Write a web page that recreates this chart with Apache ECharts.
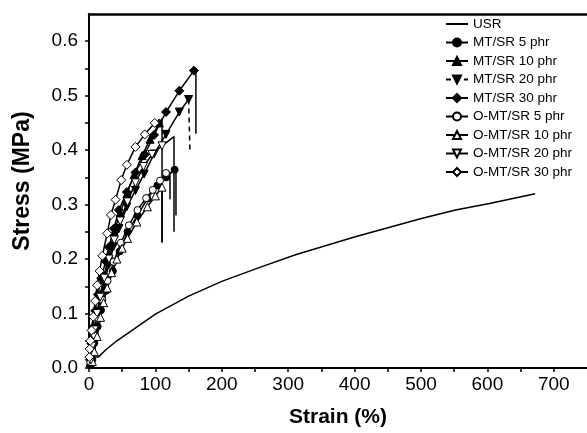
<!DOCTYPE html>
<html>
<head>
<meta charset="utf-8">
<script src="https://cdn.jsdelivr.net/npm/echarts@6/dist/echarts.min.js"></script>
<style>
  html, body { margin: 0; padding: 0; background: #fff; }
  #chart { width: 587px; height: 433px; }
</style>
</head>
<body>
<div id="chart"></div>
<script>
// Stress–strain curves: strain (%) vs stress (MPa)
const usr = [[4,0.02],[14,0.02],[25,0.033],[42,0.05],[67,0.071],[100,0.099],[150,0.132],[200,0.159],[251,0.182],[311,0.208],[401,0.241],[502,0.275],[552,0.29],[603,0.302],[672,0.32]];

const mt5 = [[2,0.005],[5,0.015],[8,0.046],[13,0.076],[18,0.106],[26,0.142],[36,0.178],[46,0.214],[58,0.25],[73,0.28],[88,0.311],[103,0.335],[116,0.35],[129,0.364]];
const mt5Break = [[131,0.37],[131,0.28]];

const mt10 = [[2,0.01],[4,0.04],[8,0.07],[12,0.1],[17,0.135],[23,0.17],[30,0.21],[38,0.25],[47,0.285],[57,0.32],[68,0.355],[80,0.39],[92,0.42],[106,0.45]];
const mt10Break = [[110,0.458],[110,0.232]];

const mt20 = [[2.5,0.009],[4.5,0.033],[7.5,0.063],[11.5,0.094],[16.5,0.124],[22.5,0.154],[30,0.19],[37,0.223],[45,0.256],[57,0.296],[70,0.326],[83,0.356],[98,0.393],[116,0.429],[136,0.47],[150,0.493]];
const mt20Break = [[150,0.493],[152,0.495],[152,0.40]];

const mt30 = [[1.5,0.015],[3.5,0.045],[6,0.075],[9.4,0.105],[13.3,0.135],[18.4,0.165],[25,0.196],[30,0.222],[37.4,0.256],[45,0.29],[57,0.323],[70,0.359],[84,0.392],[98,0.428],[116,0.47],[136,0.509],[158,0.546]];
const mt30Break = [[161,0.55],[161,0.43]];

const omt5 = [[2,0.01],[5,0.03],[9,0.06],[14,0.09],[20,0.125],[28,0.16],[37,0.195],[48,0.23],[60,0.262],[73,0.29],[86,0.312],[96,0.327],[107,0.344],[116,0.358]];
const omt5Break = [[122,0.36],[122,0.31]];

const omt10 = [[5,0.012],[8,0.03],[12.3,0.058],[17.3,0.093],[22,0.12],[27.4,0.147],[34,0.175],[42,0.2],[50,0.22],[58,0.238],[72,0.268],[88,0.296],[100,0.316],[110,0.332]];
const omt10Break = [[110,0.34],[110,0.23]];

const omt20 = [[3,0.015],[5,0.04],[8,0.07],[12,0.1],[17,0.13],[23,0.165],[30,0.2],[38,0.235],[47,0.27],[58,0.305],[70,0.34],[82,0.37],[95,0.392],[110,0.408]];
const omt20Break = [[128,0.425],[128,0.25]];

const omt30 = [[0.5,0.02],[1,0.035],[2,0.05],[3.8,0.069],[6.3,0.094],[9.3,0.123],[12.3,0.152],[16,0.178],[20,0.206],[27.4,0.247],[33,0.281],[40,0.309],[48.5,0.345],[57,0.373],[70,0.406],[84,0.429],[99,0.45]];
const omt30Break = [[107,0.456]];

const xTicks = { min: 0, max: 750, step: 50, labelStep: 100 };
const yTicks = { min: 0, max: 0.65, step: 0.05 };

const FONT = 'Liberation Sans, Arial, sans-serif';

// marker points followed by fracture segment points (no marker)
function withBreak(points, brk) {
  return points.map(p => ({ value: p }))
    .concat(brk.map(p => ({ value: p, symbol: 'none' })));
}

function curve(name, points, brk, symbol, size, filled, rotate) {
  return {
    name: name,
    type: 'line',
    data: withBreak(points, brk),
    symbol: symbol,
    symbolSize: size,
    symbolRotate: rotate || 0,
    showSymbol: true,
    lineStyle: { color: '#000', width: 1.5 },
    itemStyle: { color: filled ? '#000' : '#fff', borderColor: '#000', borderWidth: 1 },
    z: 3,
    animation: false
  };
}

const series = [
  {
    name: 'USR', type: 'line', data: usr, symbol: 'none', showSymbol: false,
    lineStyle: { color: '#000', width: 1.5 }, itemStyle: { color: '#000' }, animation: false
  },
  curve('MT/SR 5 phr', mt5, mt5Break, 'circle', 7, true),
  curve('MT/SR 10 phr', mt10, mt10Break, 'triangle', 8, true),
  curve('MT/SR 20 phr', mt20, [], 'triangle', 8, true, 180),
  {
    name: 'mt20-break', type: 'line', data: mt20Break, symbol: 'none', showSymbol: false,
    lineStyle: { color: '#000', width: 1.5, type: [5, 4] }, animation: false
  },
  curve('MT/SR 30 phr', mt30, mt30Break, 'diamond', 9, true),
  curve('O-MT/SR 5 phr', omt5, omt5Break, 'circle', 7, false),
  curve('O-MT/SR 10 phr', omt10, omt10Break, 'triangle', 8, false),
  curve('O-MT/SR 20 phr', omt20, omt20Break, 'triangle', 8, false, 180),
  curve('O-MT/SR 30 phr', omt30, omt30Break, 'diamond', 9, false)
];

const legendNames = ['USR','MT/SR 5 phr','MT/SR 10 phr','MT/SR 20 phr','MT/SR 30 phr','O-MT/SR 5 phr','O-MT/SR 10 phr','O-MT/SR 20 phr','O-MT/SR 30 phr'];

function legendItem(n) {
  if (n === 'USR') return { name: n, itemStyle: { opacity: 0 } };
  if (n === 'MT/SR 20 phr') return { name: n, lineStyle: { type: [5, 4] } };
  return { name: n };
}

const chart = echarts.init(document.getElementById('chart'), null, { renderer: 'canvas' });
chart.setOption({
  backgroundColor: '#fff',
  animation: false,
  textStyle: { fontFamily: FONT },
  grid: { left: 89, right: 0, top: 14, bottom: 62, containLabel: false },
  legend: {
    orient: 'vertical',
    left: 445,
    top: 17,
    padding: 0,
    itemWidth: 22,
    itemHeight: 10,
    itemGap: 4.5,
    textStyle: { fontFamily: FONT, fontSize: 13.5, color: '#000' },
    data: legendNames.map(legendItem)
  },
  xAxis: [
    {
      type: 'value', min: xTicks.min, max: xTicks.max, interval: xTicks.step,
      name: 'Strain (%)', nameLocation: 'middle', nameGap: 39,
      nameTextStyle: { fontFamily: FONT, fontSize: 21, fontWeight: 'bold', color: '#000' },
      axisLine: { show: true, onZero: false, lineStyle: { color: '#000', width: 2 } },
      axisTick: { show: true, inside: false, length: 4, lineStyle: { color: '#000', width: 1.5 } },
      axisLabel: {
        color: '#000', fontSize: 19, fontFamily: FONT, margin: 7, showMaxLabel: false,
        formatter: v => (Math.round(v) % xTicks.labelStep === 0 ? String(v) : '')
      },
      splitLine: { show: false }
    },
    {
      type: 'value', position: 'top', min: xTicks.min, max: xTicks.max,
      axisLine: { show: true, onZero: false, lineStyle: { color: '#000', width: 2.5 } },
      axisTick: { show: false }, axisLabel: { show: false }, splitLine: { show: false }
    }
  ],
  yAxis: {
    type: 'value', min: yTicks.min, max: yTicks.max, interval: yTicks.step,
    name: 'Stress (MPa)', nameLocation: 'middle', nameGap: 55, nameRotate: 90,
    nameTextStyle: { fontFamily: FONT, fontSize: 23, fontWeight: 'bold', color: '#000', padding: [0, 0, 0, 20] },
    axisLine: { show: true, onZero: false, lineStyle: { color: '#000', width: 2 } },
    axisTick: { show: true, inside: false, length: 4, lineStyle: { color: '#000', width: 1.5 } },
    axisLabel: {
      color: '#000', fontSize: 19, fontFamily: FONT, margin: 11, showMaxLabel: false,
      formatter: v => (Math.round(v * 100) % 10 === 0 ? v.toFixed(1) : '')
    },
    splitLine: { show: false }
  },
  series: series
});
</script>
</body>
</html>
